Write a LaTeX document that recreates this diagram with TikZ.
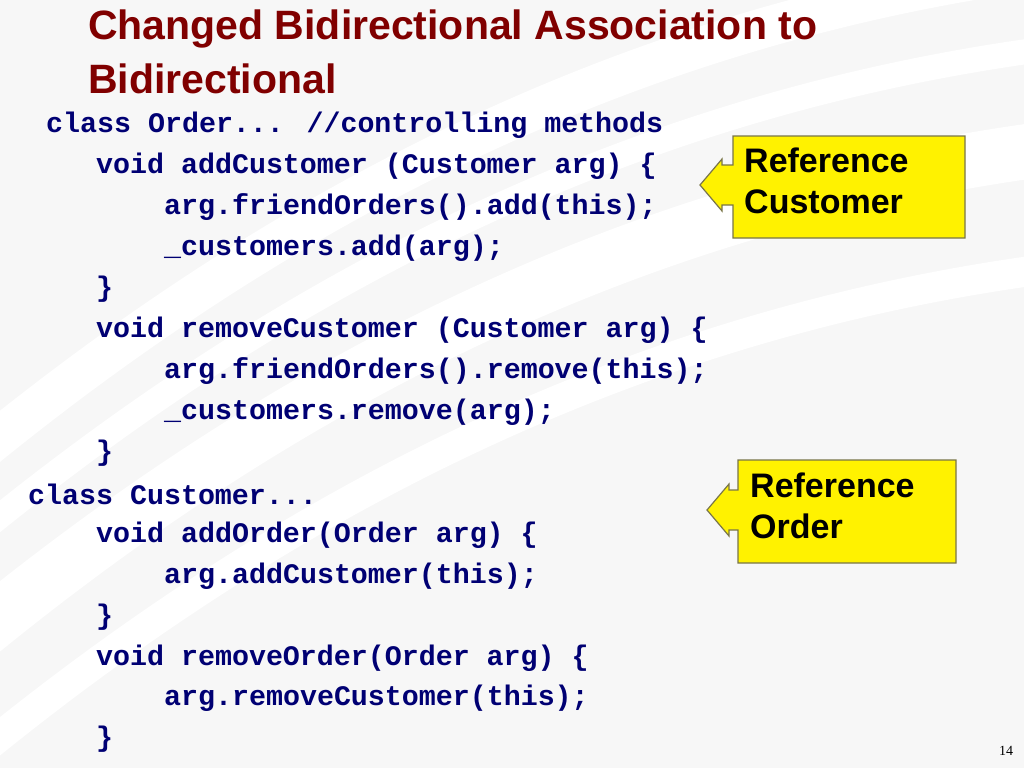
\documentclass[tikz,border=0pt]{standalone}
\usepackage{fontspec}
\setmainfont{Liberation Sans}
\newfontfamily\codefont{Liberation Mono}
\newfontfamily\numfont{Liberation Serif}
\colorlet{titlered}{red!50!black}
\colorlet{noteyellow}{yellow}
\tikzset{
  code/.style={anchor=west, inner sep=0pt, font=\codefont\bfseries\fontsize{28.3}{30}\selectfont, text=blue!45!black},
  note/.style={anchor=north west, inner sep=0pt, align=left, font=\bfseries\fontsize{34}{41}\selectfont},
  callout/.style={fill=noteyellow, draw=black!60!yellow, line width=1.2pt}
}
\begin{document}
\begin{tikzpicture}[x=1pt, y=-1pt]
  \useasboundingbox (0,0) rectangle (1024,768);
  % background
  \fill[gray!6] (0,0) rectangle (1024,768);
  \foreach \r/\w in {520/40, 600/25, 700/55, 820/30}
    \draw[white, line width=\w pt] (-100,\r) .. controls (300,\r-350) and (700,\r-520) .. (1124,\r-560);

  % title
  \node[anchor=north west, inner sep=0pt, align=left, text=titlered,
        font=\bfseries\fontsize{41}{54}\selectfont] (title) at (88,10)
        {Changed Bidirectional Association to\\Bidirectional};

  % code lines
  \node[code] (l1) at (46,125) {class Order... //controlling methods};
  \node[code] (l2) at (96,166) {void addCustomer (Customer arg) \{};
  \node[code] (l3) at (164,207) {arg.friendOrders().add(this);};
  \node[code] (l4) at (164,248) {\_customers.add(arg);};
  \node[code] (l5) at (96,289) {\}};
  \node[code] (l6) at (96,330) {void removeCustomer (Customer arg) \{};
  \node[code] (l7) at (164,371) {arg.friendOrders().remove(this);};
  \node[code] (l8) at (164,412) {\_customers.remove(arg);};
  \node[code] (l9) at (96,453) {\}};
  \node[code] (l10) at (28,494) {class Customer...};
  \node[code] (l11) at (96,535) {void addOrder(Order arg) \{};
  \node[code] (l12) at (164,576) {arg.addCustomer(this);};
  \node[code] (l13) at (96,617) {\}};
  \node[code] (l14) at (96,658) {void removeOrder(Order arg) \{};
  \node[code] (l15) at (164,698) {arg.removeCustomer(this);};
  \node[code] (l16) at (96,739) {\}};

  % callouts
  \draw[callout] (733,136) -- (965,136) -- (965,238) -- (733,238) -- (733,205)
    -- (722,205) -- (722,211) -- (700,185) -- (722,159) -- (722,165) -- (733,165) -- cycle;
  \node[note] (refcust) at (744,148) {Reference\\Customer};

  \draw[callout] (738,460) -- (956,460) -- (956,563) -- (738,563) -- (738,530)
    -- (729,530) -- (729,536) -- (707,510) -- (729,484) -- (729,490) -- (738,490) -- cycle;
  \node[note] (reford) at (750,473) {Reference\\Order};

  \node[inner sep=0pt, font=\numfont\fontsize{14}{16}\selectfont] (page) at (1006,751) {14};
\end{tikzpicture}
\end{document}
